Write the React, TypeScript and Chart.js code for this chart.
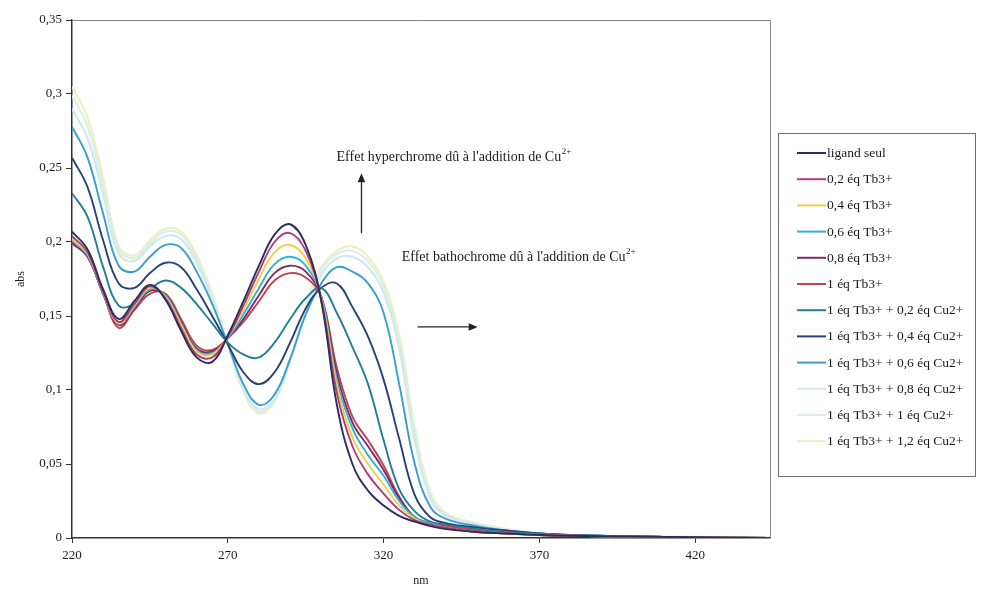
import React, { useEffect, useRef } from "react";
import { Chart, registerables } from "chart.js";
Chart.register(...registerables);

const wavelengths = [220, 225, 230, 235, 240, 245, 250, 255, 260, 265, 270, 275, 280, 285, 290, 295, 300, 305, 310, 315, 320, 325, 330, 335, 340, 350, 360, 370, 380, 400, 420, 444];

const ligandSeul = [0.207, 0.195, 0.168, 0.148, 0.160, 0.171, 0.161, 0.140, 0.122, 0.119, 0.137, 0.160, 0.184, 0.205, 0.212, 0.198, 0.160, 0.090, 0.050, 0.032, 0.022, 0.015, 0.011, 0.008, 0.006, 0.004, 0.003, 0.002, 0.0015, 0.001, 0.0005, 0];
const tb02 = [0.204, 0.193, 0.166, 0.146, 0.158, 0.170, 0.162, 0.142, 0.124, 0.122, 0.136, 0.157, 0.180, 0.200, 0.206, 0.194, 0.161, 0.098, 0.062, 0.043, 0.030, 0.019, 0.012, 0.009, 0.007, 0.004, 0.003, 0.002, 0.0015, 0.001, 0.0005, 0];
const tb04 = [0.202, 0.192, 0.166, 0.145, 0.157, 0.169, 0.163, 0.144, 0.126, 0.124, 0.136, 0.154, 0.175, 0.193, 0.198, 0.189, 0.162, 0.103, 0.068, 0.050, 0.036, 0.022, 0.013, 0.009, 0.007, 0.004, 0.003, 0.002, 0.0015, 0.001, 0.0005, 0];
const tb06 = [0.201, 0.191, 0.165, 0.145, 0.156, 0.168, 0.164, 0.145, 0.127, 0.125, 0.135, 0.151, 0.169, 0.185, 0.190, 0.184, 0.163, 0.107, 0.074, 0.056, 0.042, 0.025, 0.014, 0.010, 0.007, 0.004, 0.003, 0.002, 0.0015, 0.001, 0.0005, 0];
const tb08 = [0.200, 0.190, 0.165, 0.144, 0.155, 0.167, 0.164, 0.146, 0.128, 0.126, 0.135, 0.148, 0.164, 0.179, 0.184, 0.180, 0.163, 0.111, 0.078, 0.062, 0.046, 0.027, 0.014, 0.010, 0.007, 0.004, 0.003, 0.002, 0.0015, 0.001, 0.0005, 0];
const tb10 = [0.199, 0.190, 0.165, 0.142, 0.154, 0.165, 0.165, 0.148, 0.130, 0.127, 0.135, 0.146, 0.160, 0.174, 0.179, 0.176, 0.163, 0.115, 0.082, 0.066, 0.049, 0.028, 0.014, 0.010, 0.008, 0.005, 0.003, 0.002, 0.0015, 0.001, 0.0005, 0];
const cu02 = [0.233, 0.217, 0.183, 0.157, 0.158, 0.168, 0.174, 0.169, 0.158, 0.145, 0.132, 0.124, 0.122, 0.132, 0.148, 0.162, 0.169, 0.152, 0.129, 0.104, 0.066, 0.033, 0.018, 0.011, 0.009, 0.006, 0.004, 0.003, 0.002, 0.001, 0.0005, 0];
const cu04 = [0.257, 0.237, 0.201, 0.172, 0.169, 0.179, 0.186, 0.183, 0.168, 0.150, 0.131, 0.112, 0.104, 0.112, 0.132, 0.155, 0.169, 0.172, 0.156, 0.136, 0.107, 0.067, 0.029, 0.014, 0.010, 0.007, 0.005, 0.003, 0.002, 0.001, 0.0005, 0];
const cu06 = [0.278, 0.257, 0.219, 0.184, 0.180, 0.190, 0.198, 0.196, 0.180, 0.158, 0.131, 0.104, 0.090, 0.097, 0.121, 0.151, 0.172, 0.183, 0.180, 0.172, 0.152, 0.104, 0.050, 0.021, 0.013, 0.008, 0.005, 0.003, 0.002, 0.001, 0.0005, 0];
const cu08 = [0.290, 0.270, 0.232, 0.192, 0.187, 0.197, 0.204, 0.202, 0.186, 0.161, 0.131, 0.101, 0.087, 0.094, 0.120, 0.153, 0.178, 0.189, 0.190, 0.183, 0.166, 0.128, 0.066, 0.027, 0.015, 0.009, 0.005, 0.003, 0.002, 0.001, 0.0005, 0];
const cu10 = [0.299, 0.278, 0.238, 0.195, 0.189, 0.199, 0.207, 0.205, 0.189, 0.163, 0.131, 0.100, 0.085, 0.093, 0.120, 0.155, 0.181, 0.192, 0.194, 0.187, 0.170, 0.133, 0.071, 0.029, 0.016, 0.009, 0.005, 0.003, 0.002, 0.001, 0.0005, 0];
const cu12 = [0.305, 0.284, 0.243, 0.197, 0.191, 0.201, 0.209, 0.207, 0.191, 0.165, 0.131, 0.099, 0.084, 0.092, 0.120, 0.157, 0.183, 0.194, 0.197, 0.190, 0.173, 0.137, 0.075, 0.031, 0.017, 0.010, 0.006, 0.003, 0.002, 0.001, 0.0005, 0];

const seriesLabels = [
  "ligand seul",
  "0,2 éq Tb3+",
  "0,4 éq Tb3+",
  "0,6 éq Tb3+",
  "0,8 éq Tb3+",
  "1 éq Tb3+",
  "1 éq Tb3+ + 0,2 éq Cu2+",
  "1 éq Tb3+ + 0,4 éq Cu2+",
  "1 éq Tb3+ + 0,6 éq Cu2+",
  "1 éq Tb3+ + 0,8 éq Cu2+",
  "1 éq Tb3+ + 1 éq Cu2+",
  "1 éq Tb3+ + 1,2 éq Cu2+",
];
const seriesColors = [
  "#2b2d5c", "#b33a7d", "#f0d048", "#2fb3d6", "#7d2a6a", "#c0434e",
  "#1f7f94", "#2a3f7a", "#38a0c8", "#cfe9ef", "#dcefe6", "#eef0c4",
];
const yTicks = [0, 0.05, 0.1, 0.15, 0.2, 0.25, 0.3, 0.35];
const xTicks = [220, 270, 320, 370, 420];

const annHyper = "Effet hyperchrome dû à l'addition de Cu";
const annBatho = "Effet bathochrome dû à l'addition de Cu";
const annSup = "2+";

const SERIF = '"Liberation Serif", "DejaVu Serif", serif';

export default function App() {
  const ref = useRef<HTMLCanvasElement>(null);
  useEffect(() => {
    document.body.style.margin = "0";
    const canvas = ref.current!;
    const series = [ligandSeul, tb02, tb04, tb06, tb08, tb10, cu02, cu04, cu06, cu08, cu10, cu12];
    const datasets = series.map((s, i) => ({
      label: seriesLabels[i],
      data: s.map((v, j) => ({ x: wavelengths[j], y: v })),
      borderColor: seriesColors[i],
      backgroundColor: seriesColors[i],
      borderWidth: i >= 9 ? 2.3 : 1.9,
      pointRadius: 0,
      tension: 0.4,
      fill: false,
    }));

    const decor = {
      id: "decor",
      afterDraw(chart: any) {
        const c = chart.ctx as CanvasRenderingContext2D;
        const a = chart.chartArea;
        const xs = chart.scales.x;
        const ys = chart.scales.y;
        c.save();
        c.strokeStyle = "#8a8a8a";
        c.lineWidth = 1;
        c.beginPath();
        c.moveTo(a.left, a.top + 0.5);
        c.lineTo(a.right + 0.5, a.top + 0.5);
        c.lineTo(a.right + 0.5, a.bottom);
        c.stroke();

        // legend
        const lx = 778, ly = 133, lw = 197, lh = 343;
        c.fillStyle = "#ffffff";
        c.fillRect(lx, ly, lw, lh);
        c.strokeStyle = "#6e6e6e";
        c.lineWidth = 1;
        c.strokeRect(lx + 0.5, ly + 0.5, lw, lh);
        c.font = `13.5px ${SERIF}`;
        c.textBaseline = "middle";
        c.textAlign = "left";
        seriesLabels.forEach((lab, i) => {
          const y = 153 + i * 26.2;
          c.strokeStyle = seriesColors[i];
          c.lineWidth = 2;
          c.beginPath();
          c.moveTo(797, y);
          c.lineTo(826, y);
          c.stroke();
          c.fillStyle = "#1a1a1a";
          c.fillText(lab, 827, y + 0.5);
        });

        const drawSup = (text: string, x: number, y: number) => {
          c.font = `14px ${SERIF}`;
          c.fillStyle = "#1a1a1a";
          c.textBaseline = "alphabetic";
          c.fillText(text, x, y);
          const w = c.measureText(text).width;
          c.font = `9px ${SERIF}`;
          c.fillText(annSup, x + w + 0.5, y - 7);
        };
        drawSup(annHyper, xs.getPixelForValue(304.9), ys.getPixelForValue(0.2545));
        drawSup(annBatho, xs.getPixelForValue(325.8), ys.getPixelForValue(0.1875));

        const arrow = (x1: number, y1: number, x2: number, y2: number) => {
          c.strokeStyle = "#222";
          c.fillStyle = "#222";
          c.lineWidth = 1.3;
          const ang = Math.atan2(y2 - y1, x2 - x1);
          const hl = 9, hw = 3.8;
          const bx = x2 - hl * Math.cos(ang), by = y2 - hl * Math.sin(ang);
          c.beginPath();
          c.moveTo(x1, y1);
          c.lineTo(bx, by);
          c.stroke();
          c.beginPath();
          c.moveTo(x2, y2);
          c.lineTo(bx + hw * Math.sin(ang), by - hw * Math.cos(ang));
          c.lineTo(bx - hw * Math.sin(ang), by + hw * Math.cos(ang));
          c.closePath();
          c.fill();
        };
        arrow(xs.getPixelForValue(312.9), ys.getPixelForValue(0.206), xs.getPixelForValue(312.9), ys.getPixelForValue(0.2465));
        arrow(xs.getPixelForValue(330.9), ys.getPixelForValue(0.1426), xs.getPixelForValue(350.2), ys.getPixelForValue(0.1426));
        c.restore();
      },
    };

    const chart = new Chart(canvas, {
      type: "line",
      data: { datasets },
      plugins: [decor],
      options: {
        animation: false,
        responsive: false,
        layout: { padding: { left: 0, right: 215, top: 20, bottom: 0 } },
        plugins: { legend: { display: false }, tooltip: { enabled: false } },
        scales: {
          x: {
            type: "linear",
            min: 220,
            max: 444,
            afterBuildTicks: (s: any) => { s.ticks = xTicks.map((v) => ({ value: v })); },
            afterFit: (s: any) => { s.height = 52; },
            ticks: {
              color: "#1a1a1a",
              font: { family: SERIF, size: 13 },
              padding: 5,
              maxRotation: 0,
              callback: (v: any) => String(v),
            },
            grid: { display: true, drawOnChartArea: false, drawTicks: true, tickLength: 5, color: "#333" },
            border: { display: true, color: "#333", width: 1.5 },
            title: { display: true, text: "nm", color: "#1a1a1a", font: { family: SERIF, size: 12 }, padding: { top: 0, bottom: 2 } },
          },
          y: {
            type: "linear",
            min: 0,
            max: 0.35,
            afterBuildTicks: (s: any) => { s.ticks = yTicks.map((v) => ({ value: v })); },
            afterFit: (s: any) => { s.width = 72; },
            ticks: {
              color: "#1a1a1a",
              font: { family: SERIF, size: 13 },
              padding: 4,
              callback: (v: any) => String(Math.round(Number(v) * 100) / 100).replace(".", ","),
            },
            grid: { display: true, drawOnChartArea: false, drawTicks: true, tickLength: 6, color: "#333" },
            border: { display: true, color: "#333", width: 1.5 },
            title: { display: true, text: "abs", color: "#1a1a1a", font: { family: SERIF, size: 12 }, padding: { top: 14, bottom: 0 } },
          },
        },
      },
    } as any);
    return () => chart.destroy();
  }, []);
  return (
    <div style={{ position: "fixed", left: 0, top: 0, width: 985, height: 590, background: "#fff" }}>
      <canvas ref={ref} width={985} height={590} style={{ display: "block" }} />
    </div>
  );
}
